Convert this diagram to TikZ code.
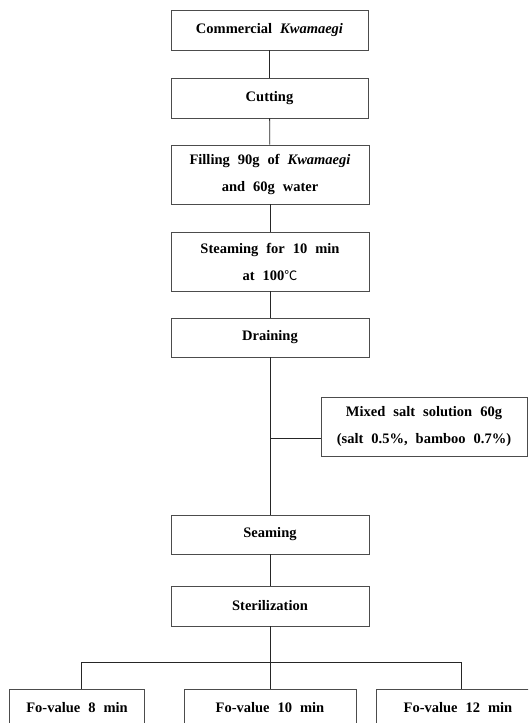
\documentclass[tikz,border=0pt]{standalone}
\usepackage{fontspec}
\setmainfont{Liberation Serif}
\newfontfamily\cjk{Noto Sans CJK SC}
\newcommand\widesp{\spaceskip=0.55em\relax}
\begin{document}
\begin{tikzpicture}[x=1pt,y=-1pt,
  box/.style={draw=black!70, line width=0.8pt, rectangle, inner sep=0pt, align=center,
    font={\fontsize{14.5}{27}\selectfont\bfseries\widesp}},
  link/.style={line width=0.8pt, draw=black!85}]
\useasboundingbox (0,0) rectangle (528,723);
\clip (0,0) rectangle (528,723);
\fill[white] (0,0) rectangle (528,723);
\node[box, minimum width=197pt, minimum height=40pt] (b1) at (269.5,30) {Commercial \textit{Kwamaegi}};
\node[box, minimum width=197pt, minimum height=40pt] (b2) at (269.5,98) {Cutting};
\node[box, minimum width=198pt, minimum height=59pt] (b3) at (270,174.5) {Filling 90g of \textit{Kwamaegi}\\and 60g water};
\node[box, minimum width=198pt, minimum height=59pt] (b4) at (270,261.5) {Steaming for 10 min\\at 100{\cjk\mdseries\fontsize{13}{27}\selectfont ℃}};
\node[box, minimum width=198pt, minimum height=39pt] (b5) at (270,337.5) {Draining};
\node[box, minimum width=206pt, minimum height=59pt] (salt) at (424,426.5) {Mixed salt solution 60g\\(salt 0.5\%, bamboo 0.7\%)};
\node[box, minimum width=198pt, minimum height=39pt] (b6) at (270,534.5) {Seaming};
\node[box, minimum width=198pt, minimum height=40pt] (b7) at (270,606) {Sterilization};
\node[box, minimum width=135pt, minimum height=38pt] (fA) at (77,708) {Fo-value 8 min};
\node[box, minimum width=172pt, minimum height=38pt] (fB) at (270,708) {Fo-value 10 min};
\node[box, minimum width=164pt, minimum height=38pt] (fC) at (458,708) {Fo-value 12 min};
\coordinate (j) at (270,438);
\coordinate (la) at (81,662);
\coordinate (ra) at (461,662);
\draw[link] (b1) -- (b2);
\draw[link] (b2) -- (b3);
\draw[link] (b3) -- (b4);
\draw[link] (b4) -- (b5);
\draw[link] (b5) -- (b6);
\draw[link] (j) -- (j -| salt.west);
\draw[link] (b6) -- (b7);
\draw[link] (b7) -- (fB);
\draw[link] (la |- fA.north) -- (la) -- (ra) -- (ra |- fC.north);
\end{tikzpicture}
\end{document}
